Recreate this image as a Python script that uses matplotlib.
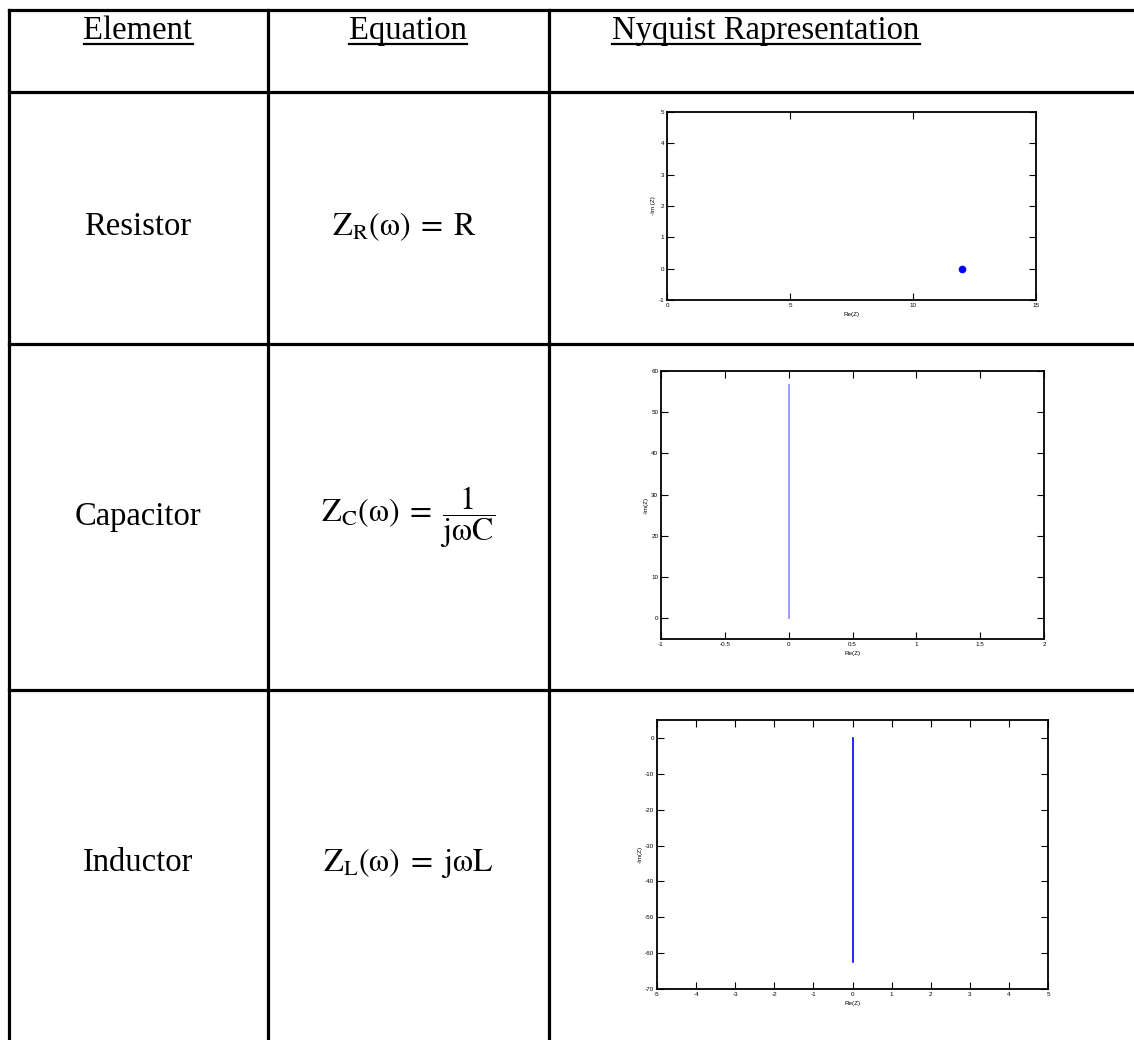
import matplotlib
matplotlib.use('Agg')
import matplotlib.pyplot as plt
from matplotlib.lines import Line2D

plt.rcParams['axes.unicode_minus'] = False
plt.rcParams['mathtext.fontset'] = 'stix'

W, H = 1134, 1040

headers = ['Element', 'Equation', 'Nyquist Rapresentation']
elements = ['Resistor', 'Capacitor', 'Inductor']
equations = [r'$\mathrm{Z_R(\omega)\;=\;R}$',
             r'$\mathrm{Z_C(\omega)\;=\;}\dfrac{1}{\mathrm{j\omega C}}$',
             r'$\mathrm{Z_L(\omega)\;=\;j\omega L}$']

# Nyquist data (Re(Z), Im(Z))
res_re = [12]
res_im = [0]
cap_re = [0, 0]
cap_im = [0, 56.5]
ind_re = [0, 0]
ind_im = [0, -62.5]

res_xticks = [0, 5, 10, 15]
res_yticks = [-1, 0, 1, 2, 3, 4, 5]
cap_xticks = [-1, -0.5, 0, 0.5, 1, 1.5, 2]
cap_xlabels = ['-1', '-0.5', '0', '0.5', '1', '1.5', '2']
cap_yticks = [0, 10, 20, 30, 40, 50, 60]
ind_xticks = [-5, -4, -3, -2, -1, 0, 1, 2, 3, 4, 5]
ind_yticks = [0, -10, -20, -30, -40, -50, -60, -70]

fig = plt.figure(figsize=(W / 100, H / 100), dpi=100)


def fx(x):
    return x / W


def fy(y):
    return 1 - y / H


def hline(y, x0=9, x1=W):
    fig.add_artist(Line2D([fx(x0), fx(x1)], [fy(y), fy(y)], color='black', lw=2.3))


def vline(x, y0=10, y1=H):
    fig.add_artist(Line2D([fx(x), fx(x)], [fy(y0), fy(y1)], color='black', lw=2.3))


# table grid
for y in [10, 92, 344, 690]:
    hline(y)
for x in [9, 268, 549]:
    vline(x)

serif = 'Liberation Serif'
head_x = [138, 408, 766]
head_txt = []
for hx, h in zip(head_x, headers):
    t = fig.text(fx(hx), fy(39), h, ha='center', va='baseline',
                 family=serif, fontsize=23.5)
    head_txt.append(t)

row_y = [227, 517, 863]
for ry, el in zip(row_y, elements):
    fig.text(fx(138), fy(ry), el, ha='center', va='center', family=serif, fontsize=23.5)

eq_x = [404, 408, 408]
for ex, ry, eq in zip(eq_x, row_y, equations):
    fig.text(fx(ex), fy(ry), eq, ha='center', va='center', fontsize=23)

# underline headers
fig.canvas.draw()
r = fig.canvas.get_renderer()
for t in head_txt:
    bb = t.get_window_extent(r)
    fig.add_artist(Line2D([bb.x0 / W, bb.x1 / W], [fy(44), fy(44)], color='black', lw=1.6))


def add_ax(l, t, rr, b):
    ax = fig.add_axes([fx(l), fy(b), (rr - l) / W, (b - t) / H])
    ax.tick_params(direction='in', top=True, right=True, length=5, width=0.8,
                   labelsize=4.5, pad=2)
    for s in ax.spines.values():
        s.set_linewidth(1.3)
    return ax


lab = dict(family='Liberation Sans', fontsize=4.5)

ax1 = add_ax(667, 112, 1036, 300)
ax1.plot(res_re, res_im, 'o', color='blue', markersize=5.5, markeredgewidth=0)
ax1.set_xlim(0, 15)
ax1.set_ylim(-1, 5)
ax1.set_xticks(res_xticks)
ax1.set_yticks(res_yticks)
ax1.set_xlabel('Re(Z)', labelpad=3, **lab)
ax1.set_ylabel('-Im (Z)', labelpad=2, **lab)

ax2 = add_ax(661, 371, 1044, 639)
ax2.plot(cap_re, cap_im, color='#8c8cff', lw=1.2)
ax2.set_xlim(-1, 2)
ax2.set_ylim(-5, 60)
ax2.set_xticks(cap_xticks)
ax2.set_xticklabels(cap_xlabels)
ax2.set_yticks(cap_yticks)
ax2.set_xlabel('Re(Z)', labelpad=3, **lab)
ax2.set_ylabel('-Im(Z)', labelpad=2, **lab)

ax3 = add_ax(657, 720, 1048, 989)
ax3.plot(ind_re, ind_im, color='#0000ff', lw=1.2)
ax3.set_xlim(-5, 5)
ax3.set_ylim(-70, 5)
ax3.set_xticks(ind_xticks)
ax3.set_yticks(ind_yticks)
ax3.set_xlabel('Re(Z)', labelpad=3, **lab)
ax3.set_ylabel('-Im(Z)', labelpad=2, **lab)

for ax in (ax1, ax2, ax3):
    for tl in ax.get_xticklabels() + ax.get_yticklabels():
        tl.set_family('Liberation Sans')

fig.savefig('out.png', dpi=100)
